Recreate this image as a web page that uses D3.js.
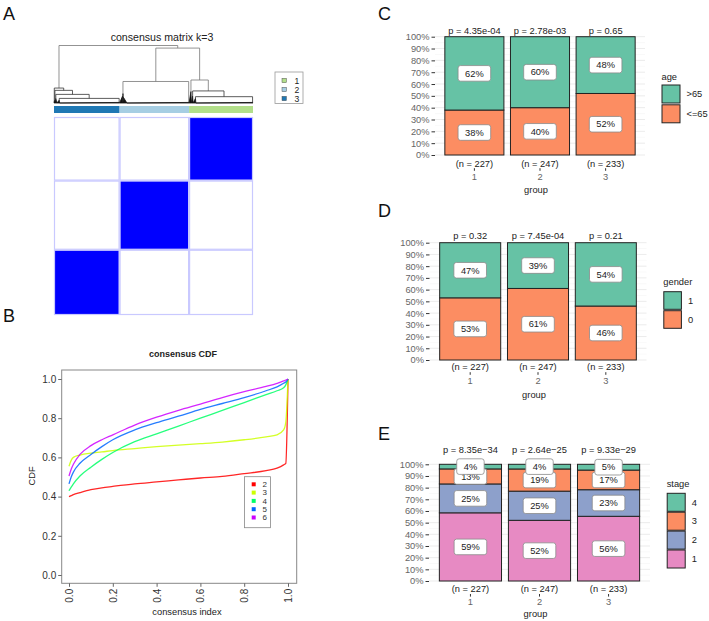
<!DOCTYPE html>
<html><head><meta charset="utf-8">
<script src="https://cdn.jsdelivr.net/npm/d3@7"></script>
<style>body{margin:0;background:#fff} svg{display:block;font-family:"Liberation Sans",Arial,sans-serif}</style>
</head><body><svg id="c" width="709" height="621"></svg>
<script>
// ---------------- DATA ----------------
// Panel A: consensus clustering (k = 3)
const clusterOrder = ["3", "2", "1"];               // left -> right order of samples
const clusterSizes = [233, 247, 227];
const clusterColors = ["#1F78B4", "#A6CEE3", "#B2DF8A"];
const legendClusters = ["1", "2", "3"];
const legendClusterColors = ["#B2DF8A", "#A6CEE3", "#1F78B4"];
// consensus values, rows top->bottom = clusters 1,2,3 ; columns = clusters 3,2,1
const consensusRow1 = [0.0, 0.0, 1.0];
const consensusRow2 = [0.0, 1.0, 0.0];
const consensusRow3 = [1.0, 0.0, 0.0];
// dendrogram (n = leaf group size, dir = chain direction, h = merge height)
const dendroC3 = {h: 0.26, kids: [{n: 2, dir: -1, h: 0.03}, {h: 0.22, kids: [{n: 3, dir: -1, h: 0.05}, {h: 0.15, kids: [{n: 5, dir: -1, h: 0.08}, {h: 0.08, kids: [{n: 10, dir: 1, h: 0.05}, {n: 213, dir: 1, h: 0.01}]}]}]}]};
const dendroC2 = {h: 0.374, kids: [{h: 0.16, kids: [{n: 12, dir: 1, h: 0.12}, {n: 14, dir: -1, h: 0.10}]}, {n: 221, dir: 1, h: 0.01}]};
const dendroC1 = {h: 0.40, kids: [{n: 8, dir: 1, h: 0.2}, {h: 0.21, kids: [{n: 6, dir: 1, h: 0.12}, {h: 0.11, kids: [{n: 10, dir: 1, h: 0.08}, {n: 203, dir: 1, h: 0.01}]}]}]};
const dendroRoot = {h: 1.0, kids: [dendroC3, {h: 0.955, kids: [dendroC2, dendroC1]}]};

// Panel B: consensus CDF
const cdfK = ["2", "3", "4", "5", "6"];
const cdfColors = ["#FF0000", "#CCFF00", "#00FF66", "#0066FF", "#CC00FF"];
const cdfIndex = [0, 0.01, 0.02, 0.05, 0.1, 0.15, 0.2, 0.3, 0.4, 0.5, 0.6, 0.7, 0.8, 0.9, 0.95, 0.98, 0.99, 1.0];
const cdfK2 = [0.40, 0.405, 0.41, 0.42, 0.435, 0.445, 0.452, 0.465, 0.475, 0.485, 0.495, 0.503, 0.517, 0.532, 0.545, 0.562, 0.57, 1.0];
const cdfK3 = [0.555, 0.585, 0.60, 0.612, 0.622, 0.628, 0.635, 0.645, 0.655, 0.663, 0.67, 0.678, 0.69, 0.705, 0.715, 0.74, 0.78, 1.0];
const cdfK4 = [0.43, 0.448, 0.465, 0.505, 0.55, 0.59, 0.625, 0.68, 0.72, 0.76, 0.80, 0.84, 0.88, 0.92, 0.94, 0.955, 0.97, 1.0];
const cdfK5 = [0.465, 0.50, 0.525, 0.57, 0.615, 0.655, 0.69, 0.74, 0.777, 0.81, 0.845, 0.875, 0.905, 0.94, 0.96, 0.978, 0.985, 1.0];
const cdfK6 = [0.505, 0.54, 0.565, 0.615, 0.66, 0.69, 0.715, 0.765, 0.805, 0.84, 0.872, 0.905, 0.935, 0.962, 0.978, 0.99, 0.995, 1.0];
const cdfTicks = [0, 0.2, 0.4, 0.6, 0.8, 1.0];

// Panels C-E: stacked percentage bars
const groups = ["1", "2", "3"];
const groupN = [227, 247, 233];
const pctTicks = [0, 0.1, 0.2, 0.3, 0.4, 0.5, 0.6, 0.7, 0.8, 0.9, 1.0];
const ageLe65 = [38, 40, 52];
const ageGt65 = [62, 60, 48];
const ageP = ["p = 4.35e-04", "p = 2.78e-03", "p = 0.65"];
const gender0 = [53, 61, 46];
const gender1 = [47, 39, 54];
const genderP = ["p = 0.32", "p = 7.45e-04", "p = 0.21"];
const stage1 = [59, 52, 56];
const stage2 = [25, 25, 23];
const stage3 = [13, 19, 17];
const stage4 = [4, 4, 5];
const stageP = ["p = 8.35e\u221234", "p = 2.64e\u221225", "p = 9.33e\u221229"];
const set2 = {teal: "#66C2A5", orange: "#FC8D62", blue: "#8DA0CB", pink: "#E78AC3"};

// ---------------- DRAW ----------------
const svg = d3.select("#c");

// panel letters
[["A", 3, 20], ["B", 3, 322], ["C", 378, 20], ["D", 378, 217], ["E", 378, 440]].forEach(([t, x, y]) =>
  svg.append("text").attr("x", x).attr("y", y).attr("font-size", 18).attr("fill", "#111").text(t));

// ===== Panel A =====
const totalN = d3.sum(clusterSizes);
const cum = [0, ...d3.cumsum(clusterSizes)];
const xs = d3.scaleLinear().domain([0, totalN]).range([54, 253]);
const rowSizes = clusterSizes.slice().reverse();          // rows: cluster 1,2,3
const rowCum = [0, ...d3.cumsum(rowSizes)];
const ys = d3.scaleLinear().domain([0, totalN]).range([117, 315]);
const heatColor = d3.scaleLinear().domain([0, 1]).range(["#ffffff", "#0000ff"]);

svg.append("text").attr("x", 162).attr("y", 40.8).attr("text-anchor", "middle")
  .attr("font-size", 10.6).attr("fill", "#222").text("consensus matrix k=3");

// dendrogram
const yd = d3.scaleLinear().domain([0, 1]).range([103, 45.5]);
let offset = 0;
function lay(node) {
  if (node.n) {
    const ps = d3.range(node.n).map(i => xs(offset + i + 0.5));
    offset += node.n;
    const seq = node.dir > 0 ? ps : ps.slice().reverse();
    let x = seq[0];
    for (let i = 1; i < seq.length; i++) x = (x + seq[i]) / 2;
    node.x = x; node.x0 = xs(offset - node.n); node.x1 = xs(offset);
    return;
  }
  node.kids.forEach(lay);
  node.x = (node.kids[0].x + node.kids[1].x) / 2;
}
lay(dendroRoot);
const dg = svg.append("g");
function drawDendro(node) {
  if (node.n) {
    dg.append("path")
      .attr("d", `M${node.x},${yd(node.h)}L${node.x0},${yd(0)}L${node.x1},${yd(0)}Z`)
      .attr("fill", "#111").attr("stroke", "#111").attr("stroke-width", 0.8);
    return;
  }
  const [a, b] = node.kids;
  dg.append("path")
    .attr("d", `M${a.x},${yd(a.h)}V${yd(node.h)}H${b.x}V${yd(b.h)}`)
    .attr("fill", "none").attr("stroke", node.h > 0.3 ? "#777" : "#333").attr("stroke-width", 0.8);
  node.kids.forEach(drawDendro);
}
drawDendro(dendroRoot);

// cluster color bar
svg.append("g").selectAll("rect").data(clusterOrder).join("rect")
  .attr("x", (d, i) => xs(cum[i])).attr("width", (d, i) => xs(cum[i + 1]) - xs(cum[i]))
  .attr("y", 106).attr("height", 7).attr("fill", (d, i) => clusterColors[i]);

// heatmap blocks
const consensusRows = [consensusRow1, consensusRow2, consensusRow3];
const hm = svg.append("g");
consensusRows.forEach((row, r) => {
  row.forEach((v, c) => {
    hm.append("rect")
      .attr("x", xs(cum[c]) + 0.5).attr("width", xs(cum[c + 1]) - xs(cum[c]) - 1)
      .attr("y", ys(rowCum[r]) + 0.5).attr("height", ys(rowCum[r + 1]) - ys(rowCum[r]) - 1)
      .attr("fill", heatColor(v)).attr("stroke", "#c9c9ff").attr("stroke-width", 1.2);
  });
});

// legend A
const lgA = svg.append("g");
lgA.append("rect").attr("x", 275).attr("y", 72).attr("width", 28).attr("height", 31.5)
  .attr("fill", "#fff").attr("stroke", "#999").attr("stroke-width", 0.8);
legendClusters.forEach((k, i) => {
  lgA.append("rect").attr("x", 282).attr("y", 78.3 + i * 9).attr("width", 4.4).attr("height", 4.4)
    .attr("fill", legendClusterColors[i]).attr("stroke", "#555").attr("stroke-width", 0.5);
  lgA.append("text").attr("x", 294.5).attr("y", 80.5 + i * 9).attr("dy", "0.35em")
    .attr("font-size", 8.6).attr("fill", "#222").text(k);
});

// ===== Panel B =====
const xC = d3.scaleLinear().domain([0, 1]).range([69, 288]);
const yC = d3.scaleLinear().domain([0, 1]).range([575, 379]);
svg.append("text").attr("x", 183).attr("y", 356.5).attr("text-anchor", "middle")
  .attr("font-size", 9).attr("font-weight", "bold").attr("fill", "#222").text("consensus CDF");
svg.append("rect").attr("x", 61.7).attr("y", 370).attr("width", 235).attr("height", 213.3)
  .attr("fill", "none").attr("stroke", "#888").attr("stroke-width", 1);
const yAxB = svg.append("g").attr("transform", "translate(61.7,0)")
  .call(d3.axisLeft(yC).tickValues(cdfTicks).tickFormat(d3.format(".1f")).tickSize(3.5).tickPadding(2));
const xAxB = svg.append("g").attr("transform", "translate(0,583.3)")
  .call(d3.axisBottom(xC).tickValues(cdfTicks).tickFormat(d3.format(".1f")).tickSize(3.5).tickPadding(2));
[yAxB, xAxB].forEach(g => {
  g.select(".domain").remove();
  g.selectAll("line").attr("stroke", "#666");
  g.selectAll("text").attr("font-size", 10).attr("fill", "#333").attr("font-family", "Liberation Sans, Arial, sans-serif");
});
xAxB.selectAll("text").attr("transform", "rotate(-90)").attr("text-anchor", "end")
  .attr("x", -5.5).attr("y", 0).attr("dy", "0.35em");
svg.append("text").attr("transform", "translate(35,476) rotate(-90)").attr("text-anchor", "middle")
  .attr("font-size", 9.3).attr("fill", "#222").text("CDF");
svg.append("text").attr("x", 187).attr("y", 615).attr("text-anchor", "middle")
  .attr("font-size", 9.3).attr("fill", "#222").text("consensus index");
const cdfSeries = [cdfK2, cdfK3, cdfK4, cdfK5, cdfK6];
const lineC = d3.line().x((d, i) => xC(cdfIndex[i])).y(d => yC(d)).curve(d3.curveMonotoneX);
cdfSeries.forEach((s, i) => {
  svg.append("path").attr("d", lineC(s)).attr("fill", "none")
    .attr("stroke", cdfColors[i]).attr("stroke-width", 1.3).attr("stroke-opacity", 0.85);
});
// legend B
const lgB = svg.append("g");
lgB.append("rect").attr("x", 244.5).attr("y", 476.7).attr("width", 26).attr("height", 51)
  .attr("fill", "#fff").attr("stroke", "#888").attr("stroke-width", 0.8);
cdfK.forEach((k, i) => {
  lgB.append("rect").attr("x", 251.7).attr("y", 482.3 + i * 8.3).attr("width", 4).attr("height", 4)
    .attr("fill", cdfColors[i]);
  lgB.append("text").attr("x", 262.5).attr("y", 484.3 + i * 8.3).attr("dy", "0.35em")
    .attr("font-size", 8).attr("fill", "#333").text(k);
});

// ===== Panels C, D, E =====
function stackedPanel(o) {
  const g = svg.append("g");
  const x = d3.scaleBand().domain(groups).range([o.x0, o.x1]).paddingInner(0.1).paddingOuter(0.15);
  const y = d3.scaleLinear().domain([0, 1]).range([o.yB, o.yT]);
  // grid
  d3.range(0, 21).map(i => i / 20).forEach((t, i) => {
    g.append("line").attr("x1", o.x0).attr("x2", o.x1).attr("y1", y(t)).attr("y2", y(t))
      .attr("stroke", i % 2 === 0 ? "#e6e6e6" : "#f2f2f2").attr("stroke-width", i % 2 === 0 ? 0.8 : 0.5);
  });
  // y axis
  const ya = g.append("g").attr("transform", `translate(${o.x0},0)`)
    .call(d3.axisLeft(y).tickValues(pctTicks).tickFormat(d3.format(".0%")).tickSize(3.5).tickPadding(2));
  ya.select(".domain").remove();
  ya.selectAll("line").attr("stroke", "#333");
  ya.selectAll("text").attr("font-size", 9.3).attr("fill", "#666").attr("font-family", "Liberation Sans, Arial, sans-serif");
  // bars
  groups.forEach((grp, gi) => {
    const vals = o.series.map(s => s[gi]);
    const tot = d3.sum(vals);
    let acc = 0;
    const segs = vals.map((v, k) => { const s = {k, v, y0: acc / tot, y1: (acc + v) / tot}; acc += v; return s; });
    segs.forEach(s => {
      g.append("rect").attr("x", x(grp)).attr("width", x.bandwidth())
        .attr("y", y(s.y1)).attr("height", y(s.y0) - y(s.y1))
        .attr("fill", o.colors[s.k]).attr("stroke", "#222").attr("stroke-width", 1);
    });
    segs.forEach(s => {
      const cx = x(grp) + x.bandwidth() / 2, cy = y((s.y0 + s.y1) / 2);
      const lg = g.append("g");
      const t = lg.append("text").attr("x", cx).attr("y", cy).attr("dy", "0.35em")
        .attr("text-anchor", "middle").attr("font-size", 9.3).attr("fill", "#222").text(s.v + "%");
      const w = t.node().getComputedTextLength() + 14;
      lg.insert("rect", "text").attr("x", cx - w / 2).attr("y", cy - 7.8).attr("width", w).attr("height", 15.6)
        .attr("rx", 2.5).attr("fill", "#fff").attr("stroke", "#8a8a8a").attr("stroke-width", 0.8);
    });
    const cx = x(grp) + x.bandwidth() / 2;
    g.append("text").attr("x", cx).attr("y", o.pY).attr("text-anchor", "middle")
      .attr("font-size", 9.3).attr("fill", "#222").text(o.pvals[gi]);
    g.append("text").attr("x", cx).attr("y", o.nY).attr("text-anchor", "middle")
      .attr("font-size", 9.3).attr("fill", "#222").text(`(n = ${groupN[gi]})`);
    g.append("line").attr("x1", cx).attr("x2", cx).attr("y1", o.tickY).attr("y2", o.tickY + 2.6)
      .attr("stroke", "#333").attr("stroke-width", 1);
    g.append("text").attr("x", cx).attr("y", o.gY).attr("text-anchor", "middle")
      .attr("font-size", 9.3).attr("fill", "#666").text(grp);
  });
  g.append("text").attr("x", (o.x0 + o.x1) / 2 - 4).attr("y", o.titleY).attr("text-anchor", "middle")
    .attr("font-size", 9.3).attr("fill", "#222").text("group");
  // legend
  g.append("text").attr("x", o.lx).attr("y", o.lty).attr("font-size", 9.3).attr("fill", "#222").text(o.legendTitle);
  o.legendItems.forEach((name, i) => {
    g.append("rect").attr("x", o.lx + 0.5).attr("y", o.ly + i * o.step).attr("width", o.key).attr("height", o.key)
      .attr("fill", o.legendColors[i]).attr("stroke", "#222").attr("stroke-width", 1);
    g.append("text").attr("x", o.lx + o.key + 7).attr("y", o.ly + i * o.step + o.key / 2).attr("dy", "0.35em")
      .attr("font-size", 9.3).attr("fill", "#222").text(name);
  });
}

stackedPanel({
  x0: 435, x1: 645, yT: 36.7, yB: 155, pY: 34.2, nY: 166.5, tickY: 168.2, gY: 179.6, titleY: 192.5,
  series: [ageLe65, ageGt65], colors: [set2.orange, set2.teal], pvals: ageP,
  legendTitle: "age", legendItems: [">65", "<=65"], legendColors: [set2.teal, set2.orange],
  lx: 661.5, lty: 79.5, ly: 85, step: 19.8, key: 18
});
stackedPanel({
  x0: 429.5, x1: 646.5, yT: 242.7, yB: 360, pY: 238.5, nY: 370, tickY: 372.2, gY: 384, titleY: 397.5,
  series: [gender0, gender1], colors: [set2.orange, set2.teal], pvals: genderP,
  legendTitle: "gender", legendItems: ["1", "0"], legendColors: [set2.teal, set2.orange],
  lx: 663.3, lty: 284.5, ly: 291.7, step: 19, key: 17.6
});
stackedPanel({
  x0: 429, x1: 650, yT: 464.3, yB: 581, pY: 452.5, nY: 591.8, tickY: 594, gY: 604.5, titleY: 617,
  series: [stage1, stage2, stage3, stage4], colors: [set2.pink, set2.blue, set2.orange, set2.teal], pvals: stageP,
  legendTitle: "stage", legendItems: ["4", "3", "2", "1"], legendColors: [set2.teal, set2.orange, set2.blue, set2.pink],
  lx: 666.7, lty: 487, ly: 493.3, step: 18.9, key: 18
});
</script>
</body></html>
